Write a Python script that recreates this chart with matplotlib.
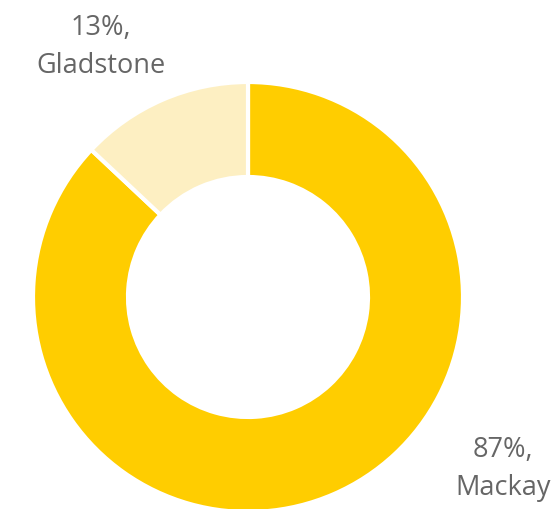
import matplotlib
matplotlib.use("Agg")
import matplotlib.pyplot as plt

regions = ["Mackay", "Gladstone"]
shares = [87, 13]
colors = ["#FFCD00", "#FDEFC2"]

W, H = 558, 509
fig = plt.figure(figsize=(W / 100, H / 100), dpi=100)
ax = fig.add_axes([0, 0, 1, 1])

cx, cy = 248, H - 297
outer, inner = 215, 120
ax.pie(shares, colors=colors, startangle=90, counterclock=False,
       center=(cx, cy), radius=outer, frame=True,
       wedgeprops=dict(width=outer - inner, edgecolor="white", linewidth=3))
ax.set_xlim(0, W)
ax.set_ylim(0, H)
ax.set_aspect("equal")
ax.axis("off")

label_pos = {"Mackay": (503, H - 469), "Gladstone": (101, H - 47)}
for name, val in zip(regions, shares):
    x, y = label_pos[name]
    ax.text(x, y, f"{val}%,\n{name}", ha="center", va="center",
            fontsize=19.5, color="#666666", family="Open Sans",
            linespacing=1.5)

fig.savefig("out.png", dpi=100)
